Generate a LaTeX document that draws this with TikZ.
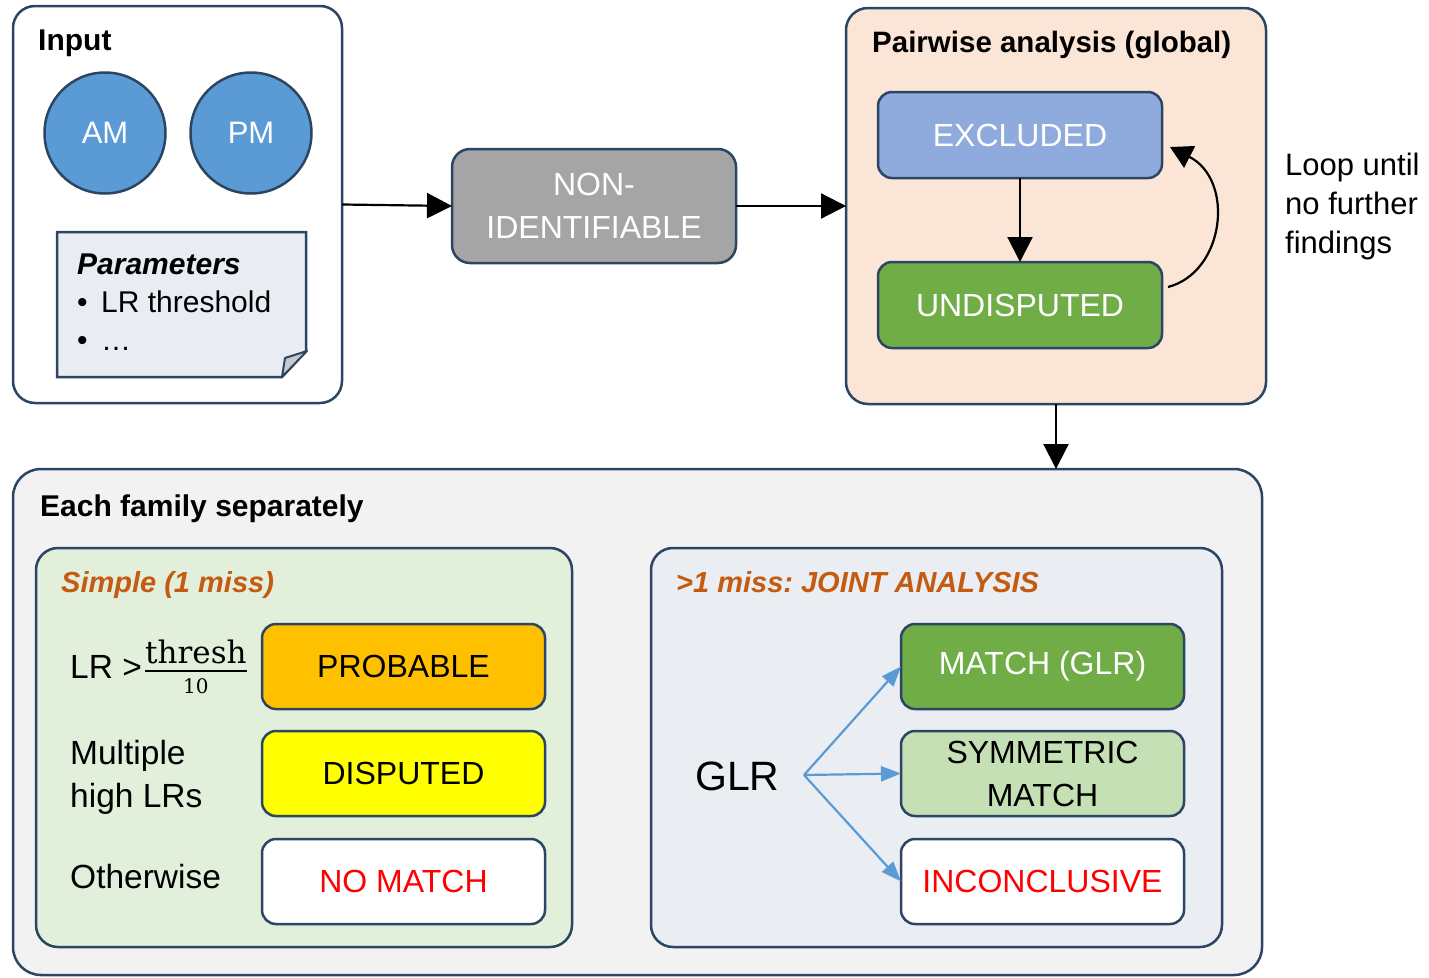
\documentclass[tikz,border=0pt]{standalone}
\usepackage{fontspec}
\setmainfont{Liberation Sans}
\newfontfamily\fracfont{DejaVu Serif}
\usetikzlibrary{arrows.meta,calc}
\frenchspacing
\definecolor{navy}{HTML}{2B4562}
\definecolor{greybox}{HTML}{A5A5A5}
\definecolor{peach}{HTML}{FBE5D6}
\definecolor{exclblue}{HTML}{8FAADC}
\definecolor{okgreen}{HTML}{70AD47}
\definecolor{circblue}{HTML}{5B9BD5}
\definecolor{famgrey}{HTML}{F2F2F2}
\definecolor{simplegreen}{HTML}{E2EFDA}
\definecolor{jointblue}{HTML}{EAEDF2}
\definecolor{notefill}{HTML}{E9ECF2}
\definecolor{foldgrey}{HTML}{C9C9C9}
\definecolor{symgreen}{HTML}{C5E0B4}
\definecolor{probable}{HTML}{FFC000}
\definecolor{disputed}{HTML}{FFFF00}
\definecolor{orangetxt}{HTML}{C55A11}
\definecolor{redtxt}{HTML}{FF0000}
\definecolor{arrowblue}{HTML}{5B9BD5}
\tikzset{
  frame/.style={draw=navy, line width=2.5pt, anchor=north west, inner sep=0pt, outer sep=0pt},
  bigframe/.style={frame, rounded corners=22pt},
  statebox/.style={frame, rounded corners=14pt, minimum width=284pt, minimum height=85pt,
    font=\fontsize{32}{43}\selectfont, align=center},
  circ/.style={circle, draw=navy, line width=2.5pt, fill=circblue, minimum size=121pt,
    inner sep=0pt, text=white, font=\fontsize{31}{36}\selectfont},
  hd/.style={anchor=base west, inner sep=0pt, font=\fontsize{30}{36}\selectfont\bfseries},
  subhd/.style={anchor=base west, inner sep=0pt, text=orangetxt, font=\fontsize{29}{36}\selectfont\bfseries\itshape},
  side/.style={anchor=base west, inner sep=0pt, font=\fontsize{33.5}{43}\selectfont},
  plain/.style={anchor=base west, inner sep=0pt, font=\fontsize{30}{38}\selectfont},
  arr/.style={-{Triangle[length=25pt,width=25pt]}, line width=2.2pt},
  barr/.style={draw=arrowblue, line width=2.2pt, -{Triangle[length=20pt,width=15pt]}}
}
\begin{document}
\begin{tikzpicture}[x=1pt,y=-1pt]
\useasboundingbox (0,0) rectangle (1429,977);

% ---------- Input ----------
\node[bigframe, fill=white, minimum width=329pt, minimum height=397pt] (inp) at (13,6) {};
\node[hd] (inplbl) at (38,50) {Input};
\node[circ] (am) at (105,133) {AM};
\node[circ] (pm) at (251,133) {PM};
\node[inner sep=0pt, outer sep=0pt, minimum width=249pt, minimum height=145pt, anchor=north west] (note) at (57,232) {};
\draw[navy, line width=2.5pt, fill=notefill, line join=miter]
  (note.north west) -- (note.north east) -- ($(note.south east)+(0,-26)$)
  -- ($(note.south east)+(-24,0)$) -- (note.south west) -- cycle;
\draw[navy, line width=2pt, fill=foldgrey, line join=round]
  ($(note.south east)+(-24,0)$) -- ($(note.south east)+(-21,-19)$) -- ($(note.south east)+(1,-26)$) -- cycle;
\node[plain, font=\fontsize{30}{38}\selectfont\bfseries\itshape] (partitle) at (77,274) {Parameters};
\node[plain] (b1) at (77,312) {•};
\node[plain] (p1) at (101,312) {LR threshold};
\node[plain] (b2) at (77,350) {•};
\node[plain] (p2) at (101,350) {…};

% ---------- Non-identifiable ----------
\node[statebox, rounded corners=18pt, fill=greybox, text=white, minimum height=114pt] (nonid) at (452,149) {NON-\\IDENTIFIABLE};

% ---------- Pairwise ----------
\node[bigframe, fill=peach, minimum width=420pt, minimum height=396pt] (pair) at (846,8) {};
\node[hd, font=\fontsize{29.5}{36}\selectfont\bfseries] (pairlbl) at (872,52) {Pairwise analysis (global)};
\node[statebox, fill=exclblue, text=white, minimum height=86pt] (excl) at (878,92) {EXCLUDED};
\node[statebox, fill=okgreen, text=white, minimum height=86pt] (undisp) at (878,262) {UNDISPUTED};
\node[anchor=base west, inner sep=0pt, align=left, font=\fontsize{31}{39}\selectfont] (loop) at (1285,253) {Loop until\\no further\\findings};

% ---------- Family ----------
\node[frame, rounded corners=28pt, fill=famgrey, minimum width=1249pt, minimum height=506pt] (fam) at (13,469) {};
\node[hd] (famlbl) at (40,516) {Each family separately};

\node[bigframe, fill=simplegreen, minimum width=536pt, minimum height=399pt] (simple) at (36,548) {};
\node[subhd] (simplelbl) at (61,592) {Simple (1 miss)};
\node[side] (lr) at (70,678) {LR >};
\node[anchor=base west, inner sep=0pt, font=\fontsize{31}{36}\fracfont] (thr) at (145,663) {thresh};
\draw[line width=1.5pt] ($(thr.base west)+(0,8)$) -- ($(thr.base east)+(0,8)$);
\node[anchor=base, inner sep=0pt, font=\fontsize{20}{24}\fracfont] (ten) at ($(thr.base)+(0,30)$) {10};
\node[side, align=left] (multi) at (70,807) {Multiple\\high LRs};
\node[side] (other) at (70,888) {Otherwise};
\node[statebox, fill=probable, minimum width=283pt] (prob) at (262,624) {PROBABLE};
\node[statebox, fill=disputed, minimum width=283pt] (disp) at (262,731) {DISPUTED};
\node[statebox, fill=white, text=redtxt, minimum width=283pt] (nomatch) at (262,839) {NO MATCH};

\node[bigframe, fill=jointblue, minimum width=571pt, minimum height=399pt] (joint) at (651,548) {};
\node[subhd] (jointlbl) at (676,592) {>1 miss: JOINT ANALYSIS};
\node[anchor=base west, inner sep=0pt, font=\fontsize{41}{48}\selectfont] (glr) at (695,790) {GLR};
\coordinate (fork) at (804,775);
\node[statebox, fill=okgreen, text=white, minimum width=283pt] (match) at (901,624) {MATCH (GLR)};
\node[statebox, fill=symgreen, minimum width=283pt] (sym) at (901,731) {SYMMETRIC\\MATCH};
\node[statebox, fill=white, text=redtxt, minimum width=283pt] (incon) at (901,839) {INCONCLUSIVE};

% ---------- Connectors ----------
\draw[arr] (inp.east) -- (nonid.west);
\draw[arr] (nonid.east) -- (pair.west);
\draw[arr] (excl.south) -- (undisp.north);
\draw[arr, -{Triangle[length=22pt,width=24pt]}] ($(undisp.east)+(6,-18)$)
  .. controls (1225,272) and (1235,180) .. ($(excl.east)+(8,12)$);
\draw[arr] (pair.south) -- (pair.south |- fam.north);
\draw[barr] (fork) -- (match.west);
\draw[barr] (fork) -- (sym.west);
\draw[barr] (fork) -- (incon.west);
\end{tikzpicture}
\end{document}
